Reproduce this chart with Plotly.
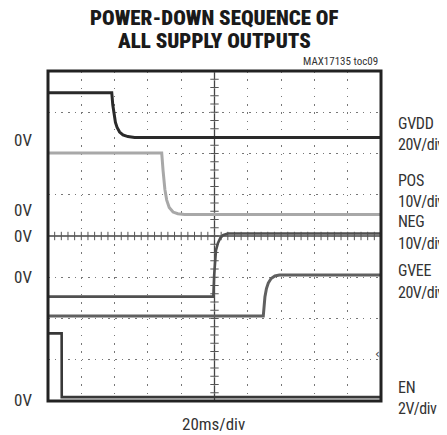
import plotly.graph_objects as go

# ---- data (time in ms, voltage in V) ----
channels = ["GVDD", "POS", "NEG", "GVEE", "EN"]
scales_v_per_div = [20, 10, 10, 20, 2]
scale_labels = ["20V/div", "10V/div", "10V/div", "20V/div", "2V/div"]
offsets_div = [6.33, 4.63, 4.0, 3.0, 0.02]

gvdd_t = [0, 38.3, 38.9, 39.6, 40.5, 41.5, 43.0, 45.0, 48.0, 52.0, 200]
gvdd_v = [22.9, 22.9, 17.0, 12.0, 8.5, 6.0, 3.8, 2.4, 1.6, 1.2, 1.2]

pos_t = [0, 68.3, 69.1, 70.2, 71.3, 72.8, 75.1, 78.0, 82.0, 200]
pos_v = [13.8, 13.8, 9.6, 5.0, 2.4, 0.6, -0.5, -0.9, -1.1, -1.1]

neg_t = [0, 99.3, 99.8, 100.3, 100.9, 102.1, 103.5, 105.1, 108.0, 200]
neg_v = [-14.7, -14.7, -9.5, -5.8, -3.4, -1.7, -0.5, 0.2, 0.6, 0.6]

gvee_t = [0, 129.3, 130.3, 131.2, 132.3, 134.0, 136.3, 139.0, 200]
gvee_v = [-18.8, -18.8, -9.4, -5.5, -2.8, -0.6, 0.6, 1.1, 1.1]

en_t = [0, 8.2, 8.25, 200]
en_v = [3.24, 3.24, 0.15, 0.15]

time_per_div_label = "20ms/div"
title_lines = ["POWER-DOWN SEQUENCE OF", "ALL SUPPLY OUTPUTS"]
ref_label = "MAX17135 toc09"

# ---- styling ----
# the page body has an 8px default margin, so the figure is laid out 8px up/left
OFF = 8
W, H = 447 - OFF, 435 - OFF
L, T = 48 - OFF, 71 - OFF
PW, PH = 333, 330
R, B = W - L - PW, H - T - PH
colors = ["#2a2a2a", "#a8a8a8", "#505050", "#606060", "#383838"]
widths = [3, 3, 2.6, 3, 2.6]
FONT = "Roboto, Liberation Sans, sans-serif"


def cond(s, ls=0):
    st = "font-stretch:condensed"
    if ls:
        st += ";letter-spacing:%gpx" % ls
    return "<span style='" + st + "'>" + s + "</span>"


def px2paper_y(ypx):
    return (T + PH - (ypx - OFF)) / PH


def px2paper_x(xpx):
    return ((xpx - OFF) - L) / PW


series = [(gvdd_t, gvdd_v), (pos_t, pos_v), (neg_t, neg_v), (gvee_t, gvee_v), (en_t, en_v)]

fig = go.Figure()

# center-line tick marks (graticule)
fig.add_trace(go.Scatter(
    x=[i * 4 for i in range(51)], y=[4] * 51, mode="markers",
    marker=dict(symbol="line-ns-open", size=6, color="#555", line=dict(color="#555", width=1)),
    hoverinfo="skip", showlegend=False))
fig.add_trace(go.Scatter(
    x=[100] * 41, y=[i * 0.2 for i in range(41)], mode="markers",
    marker=dict(symbol="line-ew-open", size=6, color="#555", line=dict(color="#555", width=1)),
    hoverinfo="skip", showlegend=False))

for name, (t, v), sc, off, c, w in zip(channels, series, scales_v_per_div, offsets_div, colors, widths):
    fig.add_trace(go.Scatter(
        x=t, y=[off + vv / sc for vv in v], mode="lines", name=name,
        line=dict(color=c, width=w), showlegend=False))

shapes = [
    dict(type="line", xref="x", yref="y", x0=100, x1=100, y0=0, y1=8,
         line=dict(color="#444", width=1.3), layer="below"),
    dict(type="line", xref="x", yref="y", x0=0, x1=200, y0=4, y1=4,
         line=dict(color="#444", width=1.3), layer="below"),
    dict(type="rect", xref="paper", yref="paper", x0=0, x1=1, y0=0, y1=1,
         line=dict(color="#222", width=3)),
]

annotations = []

# title
for line, ypx in zip(title_lines, [18, 41]):
    annotations.append(dict(text=cond(line), x=0.5, y=px2paper_y(ypx),
                            xref="paper", yref="paper", showarrow=False,
                            xanchor="center", yanchor="middle",
                            font=dict(family=FONT, size=21, weight=900, color="#1a1a1a")))
annotations.append(dict(text=cond(ref_label), x=px2paper_x(380), y=px2paper_y(62),
                        xref="paper", yref="paper", showarrow=False,
                        xanchor="right", yanchor="middle",
                        font=dict(family=FONT, size=11, color="#333")))

# left 0V labels at channel offsets
for off in offsets_div:
    annotations.append(dict(text=cond("0V"), x=px2paper_x(22.5), y=off, xref="paper", yref="y",
                            showarrow=False, xanchor="center", yanchor="middle",
                            font=dict(family=FONT, size=17, color="#333")))

# right channel labels
name_y = [123, 180, 221, 270, 387]
scale_y = [144, 201, 243, 292, 408]
for n, s, ny, sy in zip(channels, scale_labels, name_y, scale_y):
    annotations.append(dict(text=cond(n, -0.3), x=px2paper_x(396), y=px2paper_y(ny), xref="paper", yref="paper",
                            showarrow=False, xanchor="left", yanchor="middle",
                            font=dict(family=FONT, size=16, color="#333")))
    annotations.append(dict(text=cond(s, -0.5), x=px2paper_x(396), y=px2paper_y(sy), xref="paper", yref="paper",
                            showarrow=False, xanchor="left", yanchor="middle",
                            font=dict(family=FONT, size=16, color="#333")))

annotations.append(dict(text=cond(time_per_div_label), x=px2paper_x(213.5), y=px2paper_y(424),
                        xref="paper", yref="paper", showarrow=False,
                        xanchor="center", yanchor="middle",
                        font=dict(family=FONT, size=17, color="#333")))

# trigger level marker
annotations.append(dict(text="‹", x=px2paper_x(377), y=px2paper_y(354), xref="paper", yref="paper",
                        showarrow=False, xanchor="center", yanchor="middle",
                        font=dict(family="DejaVu Sans", size=12, color="#444")))

fig.update_layout(
    width=W, height=H,
    margin=dict(l=L, r=R, t=T, b=B, pad=0),
    paper_bgcolor="white", plot_bgcolor="white",
    shapes=shapes, annotations=annotations,
    xaxis=dict(range=[0, 200], dtick=20, tick0=0, showgrid=True, gridcolor="#777",
               gridwidth=1, griddash="1.5px,6.75px", showticklabels=False, ticks="",
               zeroline=False, showline=False, fixedrange=True),
    yaxis=dict(range=[0, 8], dtick=1, tick0=0, showgrid=True, gridcolor="#777",
               gridwidth=1, griddash="1.5px,5.2px", showticklabels=False, ticks="",
               zeroline=False, showline=False, fixedrange=True),
)

fig.write_html("out.html")
